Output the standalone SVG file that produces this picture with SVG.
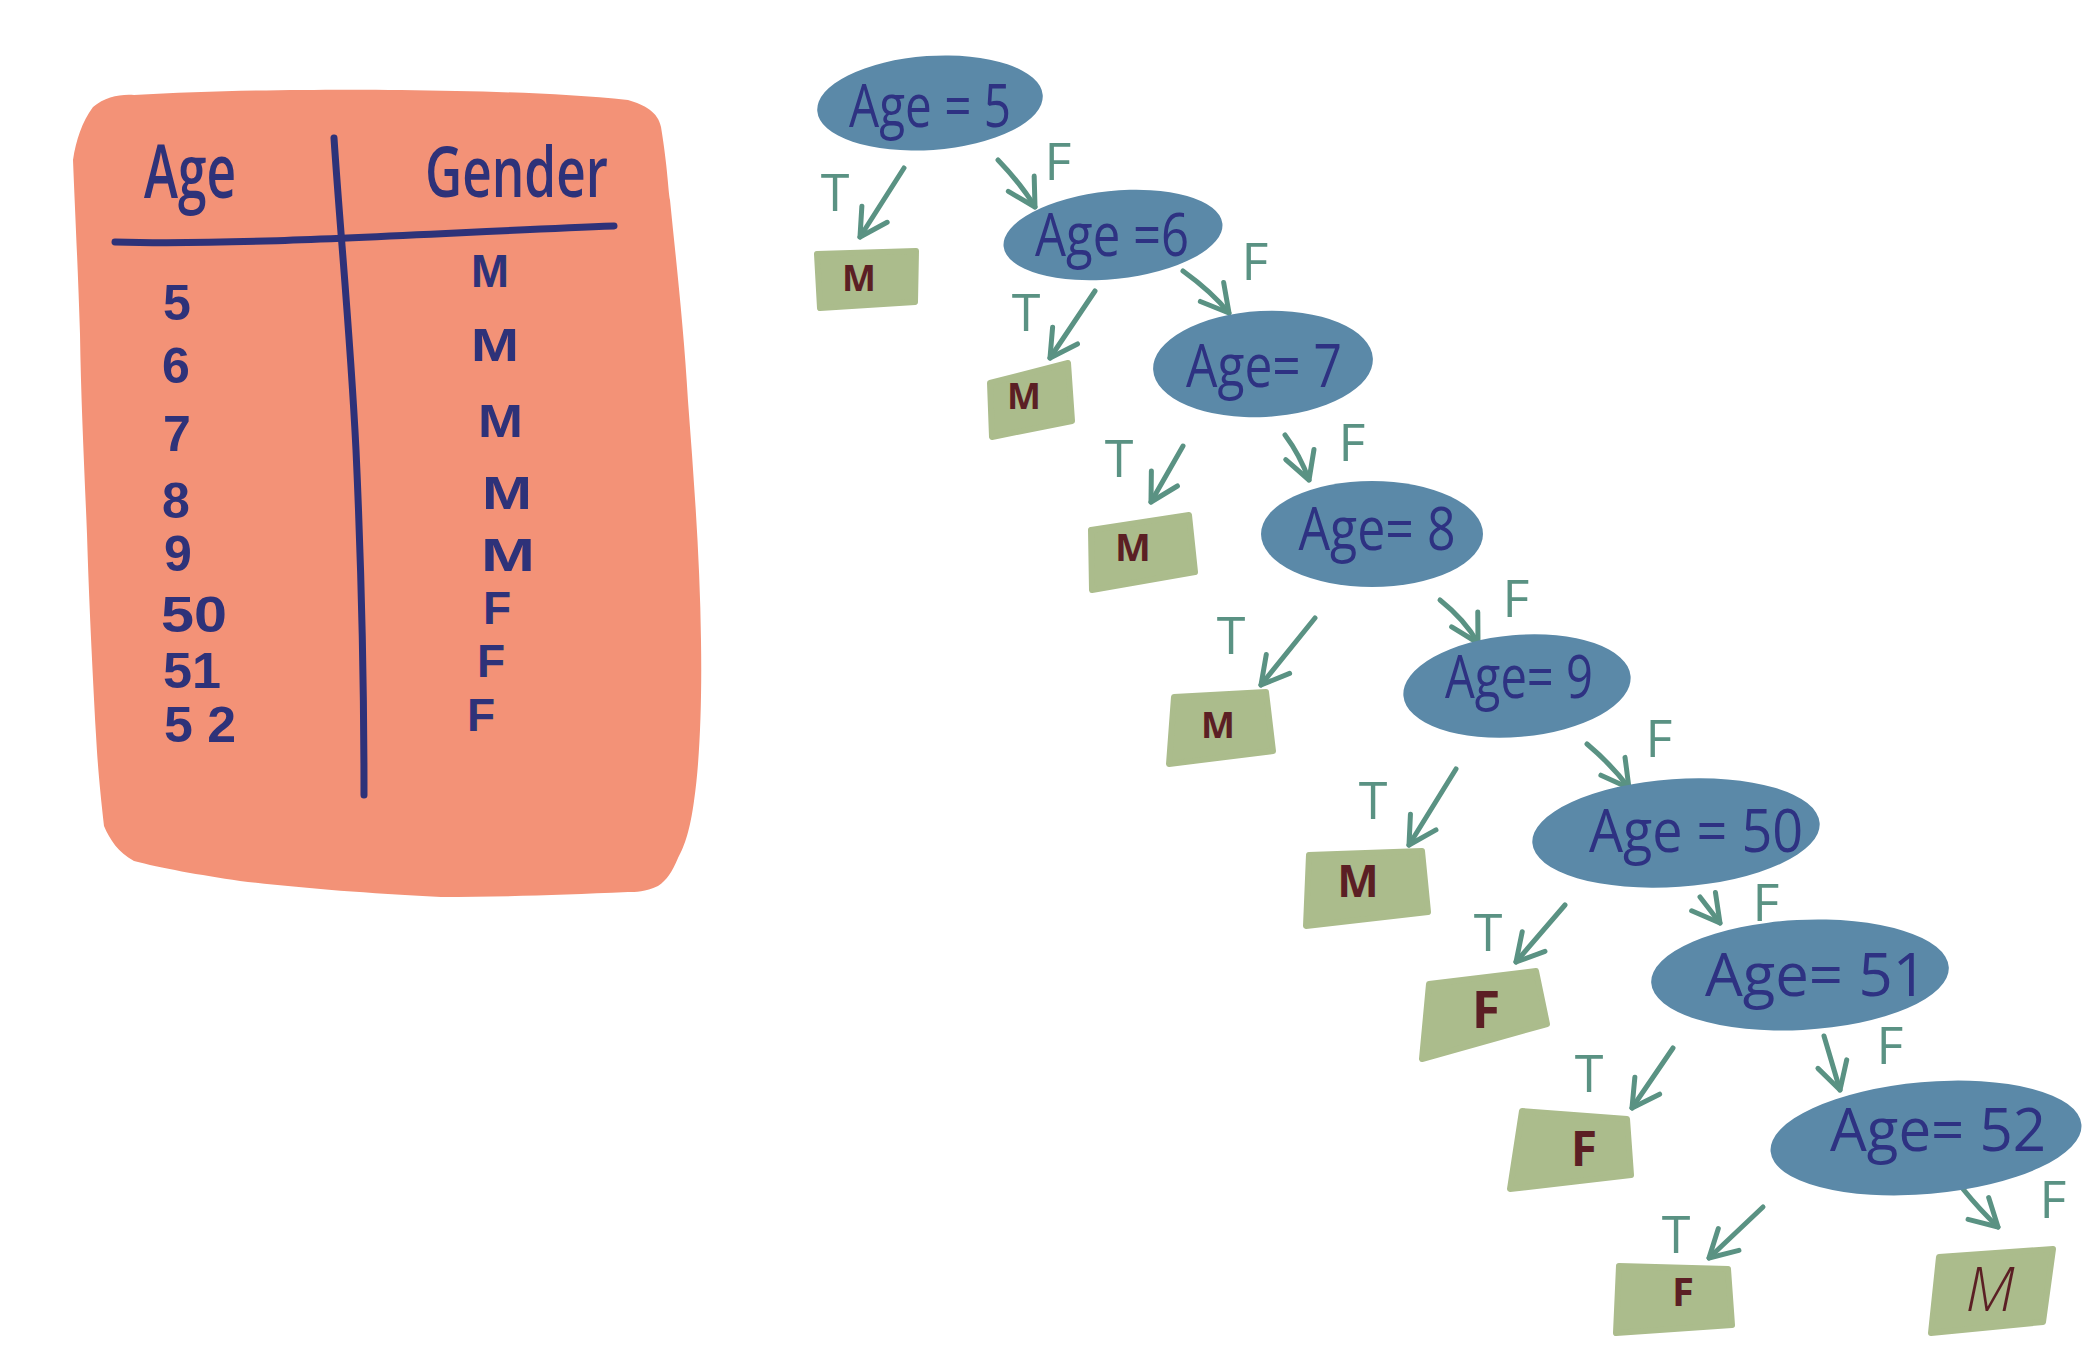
<svg xmlns="http://www.w3.org/2000/svg" width="2094" height="1347" viewBox="0 0 2094 1347">
<style>
.blob{fill:#5B89A8}
.qt{font-family:"Open Sans","DejaVu Sans",sans-serif;font-size:60px;fill:#2E3282;text-anchor:middle}
.leaf{fill:#ABBC8C;stroke:#ABBC8C;stroke-width:6;stroke-linejoin:round}
.lt{font-family:"Open Sans","DejaVu Sans",sans-serif;font-weight:700;fill:#5B1F24;text-anchor:middle}
.edge{fill:none;stroke:#5A9283;stroke-width:5;stroke-linecap:round;marker-end:url(#v)}
.el{font-family:"Open Sans","DejaVu Sans",sans-serif;font-size:52px;fill:#5A9283;text-anchor:middle}
.tab{font-family:"Open Sans","DejaVu Sans",sans-serif;font-weight:600;fill:#2E3279}
.cell{font-family:"Liberation Sans","Arial",sans-serif;font-weight:700;fill:#2E3279}
.rule{fill:none;stroke:#2E3279;stroke-width:7;stroke-linecap:round}
</style>
<defs>
<marker id="v" markerUnits="userSpaceOnUse" markerWidth="60" markerHeight="60" refX="0" refY="0" viewBox="-40 -30 50 60" orient="auto">
<path d="M-27,-15 L0,0 L-27,15" fill="none" stroke="#5A9283" stroke-width="5" stroke-linecap="round" stroke-linejoin="round"/>
</marker>
</defs>
<rect width="2094" height="1347" fill="#fff"/>

<g id="table">
<path d="M73,160 C76,140 82,122 93,107 C105,97 120,94 134,95 C220,90 330,89 401,90 C480,91 560,93 628,100 C645,105 658,112 661,127 C668,170 668,190 670,200 C676,260 684,330 688,401 C694,480 700,560 701,641 C702,700 700,760 694,801 C690,830 685,845 678,858 C672,872 667,880 658,886 C645,892 636,892 628,892 C560,895 500,897 441,897 C360,893 300,888 240,881 C200,875 160,868 134,861 C118,852 110,840 104,826 C100,790 98,770 96,735 C92,660 89,600 87,534 C84,460 81,400 80,334 C78,270 75,210 73,160 Z" fill="#F39277"/>
<path class="rule" d="M115,242 C250,246 450,232 614,226"/>
<path class="rule" d="M334,138 C340,230 350,330 356,450 C361,560 364,680 364,795"/>
<text class="tab" x="144" y="198" font-size="74" textLength="92" lengthAdjust="spacingAndGlyphs">Age</text>
<text class="tab" x="425" y="197" font-size="70" textLength="183" lengthAdjust="spacingAndGlyphs">Gender</text>
<g font-size="50">
<text class="cell" x="163" y="320">5</text>
<text class="cell" x="162" y="383">6</text>
<text class="cell" x="163" y="451">7</text>
<text class="cell" x="162" y="518">8</text>
<text class="cell" x="164" y="571">9</text>
<text class="cell" x="161" y="632" textLength="66" lengthAdjust="spacingAndGlyphs">50</text>
<text class="cell" x="163" y="688" textLength="58" lengthAdjust="spacingAndGlyphs">51</text>
<text class="cell" x="164" y="742" textLength="72" lengthAdjust="spacingAndGlyphs">5 2</text>
</g>
<g font-size="46">
<text class="cell" x="471" y="287" textLength="38" lengthAdjust="spacingAndGlyphs">M</text>
<text class="cell" x="471" y="361" textLength="48" lengthAdjust="spacingAndGlyphs">M</text>
<text class="cell" x="478" y="437" textLength="45" lengthAdjust="spacingAndGlyphs">M</text>
<text class="cell" x="482" y="509" textLength="50" lengthAdjust="spacingAndGlyphs">M</text>
<text class="cell" x="481" y="571" textLength="54" lengthAdjust="spacingAndGlyphs">M</text>
<text class="cell" x="483" y="624">F</text>
<text class="cell" x="477" y="677">F</text>
<text class="cell" x="467" y="731">F</text>
</g>
</g>

<g id="connectors">
<path class="edge" d="M904,168 L860,237"/>
<path class="edge" d="M998,160 Q1022,185 1035,207"/>
<path class="edge" d="M1095,291 L1050,358"/>
<path class="edge" d="M1183,271 Q1212,292 1229,313"/>
<path class="edge" d="M1183,446 L1151,502"/>
<path class="edge" d="M1285,435 Q1300,455 1309,480"/>
<path class="edge" d="M1315,618 L1261,685"/>
<path class="edge" d="M1440,600 Q1465,620 1478,643"/>
<path class="edge" d="M1456,769 L1409,845"/>
<path class="edge" d="M1587,744 Q1612,765 1629,788"/>
<path class="edge" d="M1565,905 L1516,962"/>
<path class="edge" d="M1700,897 L1720,923"/>
<path class="edge" d="M1673,1048 L1632,1108"/>
<path class="edge" d="M1824,1036 L1840,1090"/>
<path class="edge" d="M1763,1207 L1709,1258"/>
<path class="edge" d="M1963,1189 Q1980,1210 1998,1227"/>
<text class="el" x="835" y="211">T</text>
<text class="el" x="1058" y="180">F</text>
<text class="el" x="1026" y="331">T</text>
<text class="el" x="1255" y="280">F</text>
<text class="el" x="1119" y="477">T</text>
<text class="el" x="1352" y="461">F</text>
<text class="el" x="1231" y="654">T</text>
<text class="el" x="1516" y="617">F</text>
<text class="el" x="1373" y="819">T</text>
<text class="el" x="1659" y="757">F</text>
<text class="el" x="1488" y="951">T</text>
<text class="el" x="1766" y="921">F</text>
<text class="el" x="1589" y="1092">T</text>
<text class="el" x="1890" y="1064">F</text>
<text class="el" x="1676" y="1253">T</text>
<text class="el" x="2053" y="1218">F</text>
</g>

<g id="n-age5"><ellipse class="blob" cx="930" cy="103" rx="113" ry="47" transform="rotate(-4 930 103)"/><text class="qt" x="930" y="127" textLength="162" lengthAdjust="spacingAndGlyphs">Age = 5</text></g>
<g id="n-age6"><ellipse class="blob" cx="1113" cy="235" rx="110" ry="44" transform="rotate(-6 1113 235)"/><text class="qt" x="1112" y="256" textLength="154" lengthAdjust="spacingAndGlyphs">Age =6</text></g>
<g id="n-age7"><ellipse class="blob" cx="1263" cy="364" rx="110" ry="53" transform="rotate(-3 1263 364)"/><text class="qt" x="1264" y="387" textLength="156" lengthAdjust="spacingAndGlyphs">Age= 7</text></g>
<g id="n-age8"><ellipse class="blob" cx="1372" cy="534" rx="111" ry="53"/><text class="qt" x="1377" y="550" textLength="157" lengthAdjust="spacingAndGlyphs">Age= 8</text></g>
<g id="n-age9"><ellipse class="blob" cx="1517" cy="686" rx="114" ry="51" transform="rotate(-5 1517 686)"/><text class="qt" x="1519" y="698" textLength="148" lengthAdjust="spacingAndGlyphs">Age= 9</text></g>
<g id="n-age50"><ellipse class="blob" cx="1676" cy="833" rx="144" ry="54" transform="rotate(-4 1676 833)"/><text class="qt" x="1696" y="852" textLength="214" lengthAdjust="spacingAndGlyphs">Age = 50</text></g>
<g id="n-age51"><ellipse class="blob" cx="1800" cy="975" rx="149" ry="55" transform="rotate(-3 1800 975)"/><text class="qt" x="1816" y="996" textLength="222" lengthAdjust="spacingAndGlyphs">Age= 51</text></g>
<g id="n-age52"><ellipse class="blob" cx="1926" cy="1138" rx="156" ry="56" transform="rotate(-5 1926 1138)"/><text class="qt" x="1938" y="1151" textLength="216" lengthAdjust="spacingAndGlyphs">Age= 52</text></g>

<g id="l1"><polygon class="leaf" points="817,254 916,251 915,302 820,308"/><text class="lt" x="859" y="291" font-size="36">M</text></g>
<g id="l2"><polygon class="leaf" points="990,383 1068,363 1072,421 992,437"/><text class="lt" x="1024" y="409" font-size="36">M</text></g>
<g id="l3"><polygon class="leaf" points="1091,530 1189,515 1195,572 1092,590"/><text class="lt" x="1133" y="561" font-size="38">M</text></g>
<g id="l4"><polygon class="leaf" points="1174,697 1266,692 1273,751 1169,764"/><text class="lt" x="1218" y="738" font-size="36">M</text></g>
<g id="l5"><polygon class="leaf" points="1309,855 1422,851 1428,912 1306,926"/><text class="lt" x="1358" y="897" font-size="44">M</text></g>
<g id="l6"><polygon class="leaf" points="1429,984 1536,971 1547,1024 1422,1059"/><text class="lt" x="1486" y="1028" font-size="52">F</text></g>
<g id="l7"><polygon class="leaf" points="1522,1111 1627,1119 1631,1175 1510,1189"/><text class="lt" x="1584" y="1166" font-size="48">F</text></g>
<g id="l8"><polygon class="leaf" points="1619,1266 1728,1269 1732,1325 1616,1333"/><text class="lt" x="1683" y="1306" font-size="40">F</text></g>
<g id="l9"><polygon class="leaf" points="1939,1257 2053,1249 2043,1322 1931,1333"/><text class="lt" x="1990" y="1311" font-size="60" style="font-weight:300;font-style:italic">M</text></g>
</svg>
